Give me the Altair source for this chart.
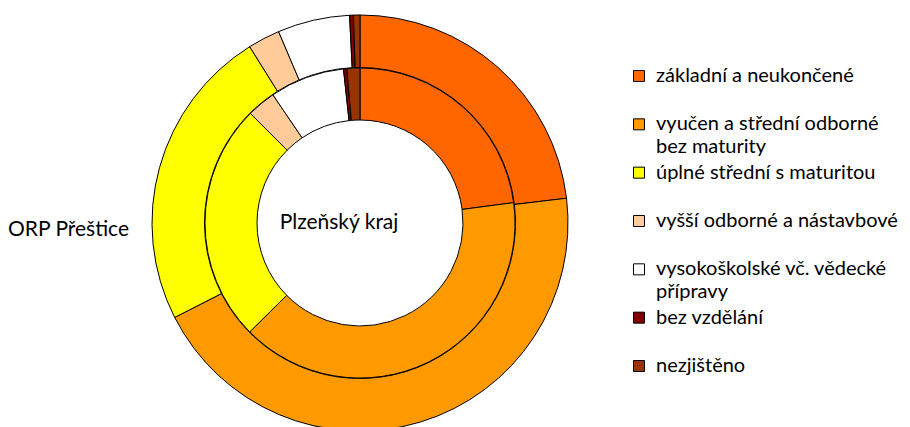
import altair as alt
import pandas as pd

categories = [
    "základní a neukončené",
    "vyučen a střední odborné bez maturity",
    "úplné střední s maturitou",
    "vyšší odborné a nástavbové",
    "vysokoškolské vč. vědecké přípravy",
    "bez vzdělání",
    "nezjištěno",
]
legend_line1 = [
    "základní a neukončené",
    "vyučen a střední odborné",
    "úplné střední s maturitou",
    "vyšší odborné a nástavbové",
    "vysokoškolské vč. vědecké",
    "bez vzdělání",
    "nezjištěno",
]
legend_line2 = ["", "bez maturity", "", "", "přípravy", "", ""]
colors = ["#FF6600", "#FF9900", "#FFFF00", "#FFCC99", "#FFFFFF", "#800000", "#993300"]

# ORP Přeštice (outer ring), Plzeňský kraj (inner ring), shares in %
orp_prestice = [23.1, 44.4, 23.6, 2.5, 5.6, 0.3, 0.5]
plzensky_kraj = [22.9, 39.7, 24.9, 3.0, 7.8, 0.35, 1.35]

rows = []
for i, c in enumerate(categories):
    rows.append({"ring": "outer", "cat": c, "value": orp_prestice[i], "idx": i})
    rows.append({"ring": "inner", "cat": c, "value": plzensky_kraj[i], "idx": i})
df = pd.DataFrame(rows)

leg = pd.DataFrame({"cat": categories, "l1": legend_line1, "l2": legend_line2})

FONT = "Lato"
FS = 20
color_scale = alt.Scale(domain=categories, range=colors)

CX, CY = 352, 215

def ring(name, r_in, r_out):
    return (
        alt.Chart(df)
        .transform_filter(alt.datum.ring == name)
        .mark_arc(radius=r_out, radius2=r_in, stroke="black", strokeWidth=1)
        .encode(
            theta=alt.Theta("value:Q", stack=True),
            order=alt.Order("idx:Q"),
            color=alt.Color("cat:N", scale=color_scale, legend=None),
            x=alt.value(CX),
            y=alt.value(CY),
        )
    )

outer = ring("outer", 155.5, 208)
inner = ring("inner", 103, 155)

center_text = alt.Chart(pd.DataFrame({"t": ["Plzeňský kraj"]})).mark_text(
    font=FONT, fontSize=21, align="center", baseline="middle", color="black"
).encode(text="t:N", x=alt.value(CX - 21), y=alt.value(CY))
left_text = alt.Chart(pd.DataFrame({"t": ["ORP Přeštice"]})).mark_text(
    font=FONT, fontSize=21, align="left", baseline="middle", color="black"
).encode(text="t:N", x=alt.value(0), y=alt.value(CY + 7))

ypos = alt.Y("cat:N", sort=categories, scale=alt.Scale(type="point", range=[68, 358], padding=0), axis=None)

squares = alt.Chart(leg).mark_square(size=121, stroke="black", strokeWidth=1, opacity=1).encode(
    x=alt.value(631),
    y=ypos,
    fill=alt.Fill("cat:N", scale=color_scale, legend=None),
)
txt1 = alt.Chart(leg).mark_text(font=FONT, fontSize=FS, align="left", baseline="middle", color="black").encode(
    x=alt.value(648), y=ypos, text="l1:N"
)
txt2 = alt.Chart(leg).mark_text(font=FONT, fontSize=FS, align="left", baseline="middle", color="black", dy=23).encode(
    x=alt.value(648), y=ypos, text="l2:N"
)

chart = (
    alt.layer(outer, inner, center_text, left_text, squares, txt1, txt2)
    .resolve_scale(theta="independent")
    .properties(width=894, height=411, padding=0)
    .configure_view(stroke=None)
)

chart.save("out.html", embed_options={"renderer": "svg", "actions": False})
